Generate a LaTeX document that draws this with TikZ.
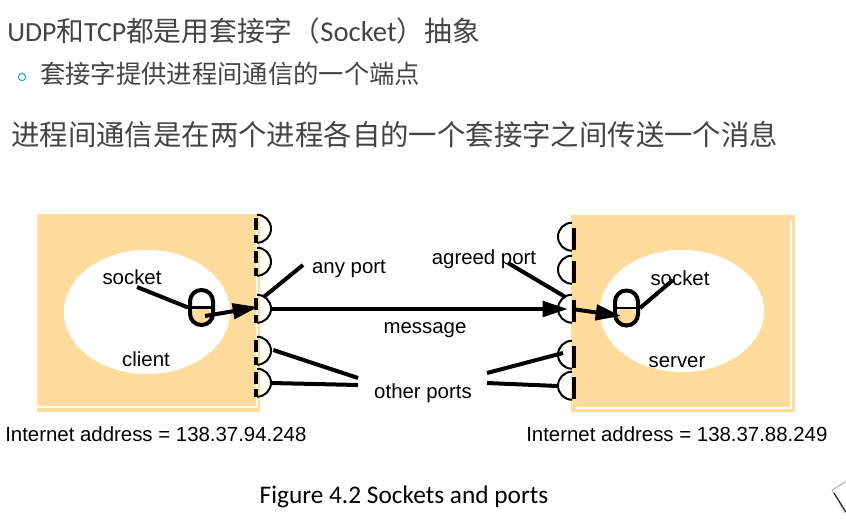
\documentclass[tikz,border=0pt]{standalone}
\usepackage{fontspec}
\setmainfont{Liberation Sans}
\newfontfamily\calfont{Carlito}
\newfontfamily\cjkfont{Noto Sans CJK SC}
\usetikzlibrary{arrows.meta,shapes.geometric,calc}
\definecolor{boxc}{RGB}{255,220,155}
\definecolor{txtg}{RGB}{68,68,68}
\definecolor{bulc}{RGB}{45,170,225}
\begin{document}
\begin{tikzpicture}[x=0.75pt,y=-0.75pt,
  lbl/.style={font=\fontsize{15.3}{18}\selectfont, inner sep=0pt},
  hostbox/.style={rectangle, fill=boxc, inner sep=0pt},
  proc/.style={ellipse, fill=white, inner sep=0pt},
  sock/.style={rectangle, rounded corners=8.5pt, draw, line width=3pt, minimum width=17.25pt, minimum height=26.25pt, inner sep=0pt,
    path picture={\fill[boxc] (path picture bounding box.west) rectangle (path picture bounding box.south east);
                  \draw[line width=2pt] (path picture bounding box.west) -- (path picture bounding box.east);}},
  port/.style={circle, minimum size=21pt, inner sep=0pt},
  conn/.style={line width=3pt},
  arr/.style={conn, -{Triangle[length=19pt,width=11.5pt]}},
  parc/.style={line width=1.5pt},
  pbar/.style={line width=3pt},
  edgeline/.style={white, line width=0.9pt}
]
\useasboundingbox (0,0) rectangle (846,521);

% heading texts
\node[anchor=west, inner sep=0pt, text=txtg, font=\fontsize{20.8}{24}\selectfont] (t1) at (7,31)
  {{\calfont UDP}{\cjkfont 和}{\calfont TCP}{\cjkfont 都是用套接字（}{\calfont\fontsize{21.5}{24}\selectfont Socket}{\cjkfont ）抽象}};
\node[circle, draw=bulc, line width=0.9pt, minimum size=5.5pt, inner sep=0pt] (bul) at (22,77) {};
\node[anchor=west, inner sep=0pt, text=txtg, font=\fontsize{19}{22}\selectfont\cjkfont] (t2) at (40,74)
  {套接字提供进程间通信的一个端点};
\node[anchor=west, inner sep=0pt, text=txtg, font=\fontsize{21.3}{26}\selectfont\cjkfont] (t3) at (11,135)
  {进程间通信是在两个进程各自的一个套接字之间传送一个消息};

% host boxes
\node[hostbox, minimum width=167.25pt, minimum height=148.5pt] (hostL) at (148.5,313) {};
\node[hostbox, minimum width=168pt, minimum height=147.75pt] (hostR) at (683,313.5) {};
\draw[edgeline] (37,407) -- (257,407) -- (257,222);
\draw[edgeline] (575,408) -- (791,408) -- (791,220);

% processes
\node[proc, minimum width=124.5pt, minimum height=93pt] (client) at (147,312) {};
\node[proc, minimum width=123pt, minimum height=91.5pt] (server) at (682,311) {};

% sockets
\node[sock] (sockL) at (201.5,307.5) {};
\node[sock] (sockR) at (626.5,308) {};

% ports left
\foreach \n/\y in {1/229,2/262,3/309,4/351,5/383}{
  \node[port] (lp\n) at (257,\y) {};
  \draw[parc] (lp\n.north) arc[start angle=90, end angle=-90, radius=10.5pt];
  \draw[pbar, dash pattern=on 9pt off 3.75pt] ($(lp\n.center)+(-1,-11)$) -- ($(lp\n.center)+(-1,14)$);
}
% ports right
\foreach \n/\y in {1/237,2/270,3/309,4/355,5/386}{
  \node[port] (rp\n) at (572,\y) {};
  \draw[parc] (rp\n.north) arc[start angle=90, end angle=270, radius=10.5pt];
  \draw[pbar] ($(rp\n.center)+(2,-9)$) -- ($(rp\n.center)+(2,13)$);
}

% labels
\node[lbl] (lsockL) at (132,277) {socket};
\node[lbl] (lclient) at (146,359) {client};
\node[lbl] (lsockR) at (680,278) {socket};
\node[lbl] (lserver) at (677,362) {server};
\node[lbl] (lany) at (349,269) {any port};
\node[lbl] (lagreed) at (484,259) {agreed port};
\node[lbl] (lmsg) at (425,330) {message};
\node[lbl] (lother) at (423,393) {other ports};
\node[lbl, anchor=west] (ipL) at (5,434) {Internet address = 138.37.94.248};
\node[lbl, anchor=west] (ipR) at (526,434) {Internet address = 138.37.88.249};
\node[inner sep=0pt, font=\fontsize{19}{22}\selectfont\calfont] (cap) at (404,497) {Figure 4.2 Sockets and ports};

% connector end points
\coordinate (sl1) at (137,287);
\coordinate (sLin) at (205,316);
\coordinate (sRin) at (621,316);
\coordinate (sr1) at (673,280);
\coordinate (anyE) at (303,265);
\coordinate (agrS) at (508,263);
\coordinate (oL1) at (358,378);
\coordinate (oL2) at (358,385);
\coordinate (oR1) at (487,373);
\coordinate (oR2) at (487,383);

% connectors
\draw[conn] (sl1) -- (sockL.west);
\draw[arr] (sLin) -- ($(lp3.center)+(1,-2)$);
\draw[arr] (lp3.east) -- ($(rp3.center)+(-4,0)$);
\draw[arr] (rp3.center) -- (sRin);
\draw[conn] (sockR.east) -- (sr1);
\draw[conn] (lp3.60) -- (anyE);
\draw[conn] (agrS) -- (rp3.120);
\draw[conn] ($(lp4.east)+(2,-1)$) -- (oL1);
\draw[conn] (lp5.east) -- (oL2);
\draw[conn] (oR1) -- ($(rp4.center)+(-9,-2)$);
\draw[conn] (oR2) -- (rp5.west);

% corner icon
\draw[gray!70, line width=0.6pt] (847,481) -- (832,490) -- (845,513);
\draw[black!80, line width=0.9pt] (834,493) -- (846,512);
\end{tikzpicture}
\end{document}
